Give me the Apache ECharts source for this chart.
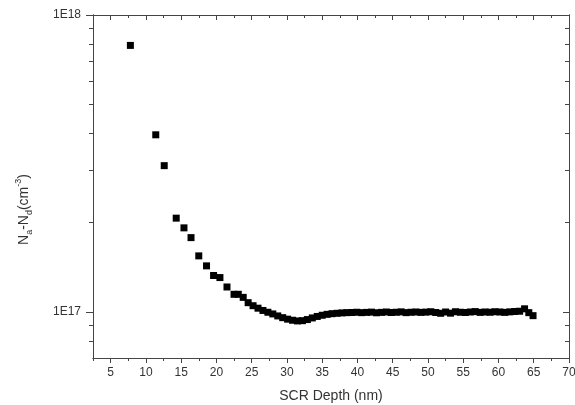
<!DOCTYPE html>
<html>
<head>
<meta charset="utf-8">
<script src="https://cdn.jsdelivr.net/npm/echarts@6/dist/echarts.min.js"></script>
<style>html,body{margin:0;padding:0;background:#fff}#c{width:575px;height:405px}</style>
</head>
<body>
<div id="c"></div>
<script>
// SCR depth (nm)
const depth = [7.8, 11.4, 12.6, 14.3, 15.4, 16.4, 17.5, 18.6, 19.6, 20.5, 21.5, 22.5,
  23.1, 23.8, 24.5, 25.2, 25.9, 26.6, 27.3, 28.0, 28.7, 29.4, 30.1, 30.8, 31.5, 32.2,
  32.9, 33.6, 34.3, 35.0, 35.7, 36.4, 37.1, 37.8, 38.5, 39.2, 39.9, 40.6, 41.3, 42.0,
  42.7, 43.4, 44.1, 44.8, 45.5, 46.2, 46.9, 47.6, 48.3, 49.0, 49.7, 50.4, 51.1, 51.8,
  52.5, 53.2, 53.9, 54.6, 55.3, 56.0, 56.7, 57.4, 58.1, 58.8, 59.5, 60.2, 60.9, 61.6,
  62.3, 63.0, 63.7, 64.3, 64.9];
// Na-Nd (cm^-3)
const conc = [7.9e17, 3.95e17, 3.11e17, 2.07e17, 1.92e17, 1.78e17, 1.545e17, 1.43e17, 1.327e17, 1.306e17, 1.214e17, 1.147e17,
  1.147e17, 1.12e17, 1.075e17, 1.05e17, 1.03e17, 1.012e17, 0.998e17, 0.985e17, 0.970e17, 0.957e17, 0.946e17, 0.938e17, 0.933e17, 0.935e17,
  0.943e17, 0.955e17, 0.966e17, 0.975e17, 0.982e17, 0.987e17, 0.990e17, 0.993e17, 0.995e17, 0.996e17, 0.998e17, 0.995e17, 0.997e17, 0.999e17,
  0.994e17, 0.997e17, 1.000e17, 0.996e17, 0.998e17, 1.001e17, 0.995e17, 0.998e17, 1.000e17, 0.997e17, 0.999e17, 1.002e17, 0.996e17, 0.990e17,
  1.000e17, 0.991e17, 1.002e17, 0.998e17, 0.996e17, 1.000e17, 1.003e17, 0.997e17, 1.000e17, 0.998e17, 1.002e17, 1.000e17, 0.997e17, 1.001e17,
  1.004e17, 1.006e17, 1.025e17, 0.995e17, 0.972e17];

const xMajor = [5, 10, 15, 20, 25, 30, 35, 40, 45, 50, 55, 60, 65, 70];
const xMinor = [2.5, 7.5, 12.5, 17.5, 22.5, 27.5, 32.5, 37.5, 42.5, 47.5, 52.5, 57.5, 62.5, 67.5];
const yMajor = [1e17, 1e18];
const yMinor = [8e16, 9e16, 2e17, 3e17, 4e17, 5e17, 6e17, 7e17, 8e17, 9e17];
const yMin = 7e16, yMax = 1e18, xMin = 2.5, xMax = 70;

const AX = '#444';
const FONT = '"Liberation Sans", Arial, sans-serif';
const lMin = Math.log10(yMin), lMax = Math.log10(yMax);
const lMajor = yMajor.map(Math.log10);
const lMinor = yMinor.map(Math.log10);

function xAx(pos, ticks, len, inside, labels, extra) {
  return Object.assign({
    type: 'value', min: xMin, max: xMax, position: pos,
    axisLine: { show: true, onZero: false, lineStyle: { color: AX, width: 1 } },
    axisTick: { show: true, customValues: ticks, length: len, inside: inside, lineStyle: { color: AX, width: 1 } },
    axisLabel: labels ? { show: true, customValues: ticks, margin: 9, color: '#333', fontSize: 12, fontFamily: FONT } : { show: false },
    splitLine: { show: false }
  }, extra || {});
}
function yAx(pos, ticks, len, inside, labels, extra) {
  return Object.assign({
    type: 'value', min: lMin, max: lMax, position: pos,
    axisLine: { show: true, onZero: false, lineStyle: { color: AX, width: 1 } },
    axisTick: { show: true, customValues: ticks, length: len, inside: inside, lineStyle: { color: AX, width: 1 } },
    axisLabel: labels ? { show: true, customValues: ticks, margin: 12, color: '#333', fontSize: 12, fontFamily: FONT,
      formatter: v => '1E' + Math.round(v) } : { show: false },
    splitLine: { show: false }
  }, extra || {});
}

const chart = echarts.init(document.getElementById('c'), null, { renderer: 'canvas' });
chart.setOption({
  animation: false,
  backgroundColor: '#fff',
  grid: { left: 93, top: 15, width: 476, height: 343, containLabel: false, outerBoundsMode: 'none' },
  xAxis: [
    xAx('bottom', xMajor, 5, false, true, {
      name: 'SCR Depth (nm)', nameLocation: 'middle', nameGap: 31,
      nameTextStyle: { color: '#333', fontSize: 14, fontFamily: FONT }
    }),
    xAx('bottom', xMinor, 3, false, false),
    xAx('top', xMajor, 5, true, false),
    xAx('top', xMinor, 3, true, false)
  ],
  yAxis: [
    { type: 'log', logBase: 10, min: yMin, max: yMax, show: false },
    yAx('left', lMajor, 7, false, true, {
      name: 'N{sub|a}-N{sub|d}(cm{sup|-3})', nameLocation: 'middle', nameGap: 59, nameRotate: 90,
      nameTextStyle: {
        color: '#333', fontSize: 14, fontFamily: FONT, lineHeight: 20, padding: [0, 46, 0, 0],
        rich: {
          sub: { fontSize: 9, fontFamily: FONT, color: '#333', verticalAlign: 'bottom', lineHeight: 10 },
          sup: { fontSize: 9, fontFamily: FONT, color: '#333', verticalAlign: 'top', lineHeight: 10 }
        }
      }
    }),
    yAx('left', lMinor, 4, false, false),
    yAx('right', lMajor, 6, true, false),
    yAx('right', lMinor, 4, true, false)
  ],
  series: [{
    type: 'scatter', xAxisIndex: 0, yAxisIndex: 0,
    symbol: 'rect', symbolSize: 7,
    itemStyle: { color: '#000', opacity: 1 },
    data: depth.map((d, i) => [d, conc[i]])
  }]
});
</script>
</body>
</html>
